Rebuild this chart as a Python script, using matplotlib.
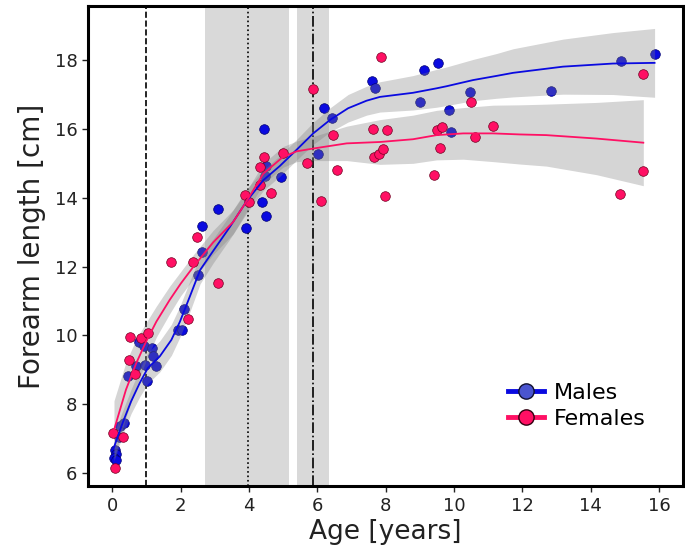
import numpy as np
import matplotlib.pyplot as plt
from matplotlib.lines import Line2D

plt.rcParams['font.family'] = ['DejaVu Sans']

# raw measurements (age in years, forearm length in cm)
male_age = [0.08, 0.12, 0.05, 0.10, 0.20, 0.22, 0.34, 0.47, 0.70, 0.77, 0.92, 0.97,
            1.01, 1.16, 1.19, 1.29, 1.93, 2.03, 2.11, 2.50, 2.63, 2.63, 3.08, 3.91,
            4.37, 4.47, 4.49, 4.51, 4.93, 4.43, 6.02, 6.19, 6.43, 7.60, 7.70, 9.12,
            9.54, 9.01, 10.47, 9.84, 9.90, 12.85, 14.89, 15.88]
male_len = [6.68, 6.55, 6.45, 6.38, 7.04, 7.38, 7.46, 8.81, 9.10, 9.81, 9.70, 9.15,
            8.68, 9.62, 9.40, 9.11, 10.17, 10.15, 10.78, 11.75, 12.43, 13.19, 13.67, 13.11,
            13.88, 14.64, 13.47, 14.93, 14.61, 16.00, 15.28, 16.62, 16.32, 17.40, 17.20, 17.71,
            17.91, 16.77, 17.08, 16.55, 15.91, 17.10, 17.98, 18.19]

female_age = [0.07, 0.03, 0.31, 0.49, 0.51, 0.67, 0.83, 1.05, 1.71, 2.23, 2.36, 2.48,
              3.08, 3.89, 3.99, 4.32, 4.33, 4.43, 4.64, 5.00, 5.69, 5.88, 6.11, 6.47,
              6.58, 7.64, 7.67, 7.80, 7.85, 7.93, 7.99, 8.05, 9.42, 9.49, 9.65, 9.59,
              10.50, 10.62, 11.14, 14.85, 15.54, 15.52]
female_len = [6.14, 7.17, 7.04, 9.28, 9.95, 8.87, 9.92, 10.08, 12.14, 10.47, 12.14, 12.87,
              11.53, 14.08, 13.89, 14.37, 14.90, 15.19, 14.14, 15.31, 15.01, 17.15, 13.91, 15.81,
              14.81, 16.00, 15.19, 15.27, 18.10, 15.41, 14.05, 15.97, 14.65, 15.96, 16.07, 15.46,
              16.79, 15.76, 16.09, 14.10, 17.59, 14.77]

# smoothed fits and confidence half widths
male_fit_x = [0.05, 0.3, 0.55, 0.8, 1.04, 1.39, 1.73, 1.98, 2.27, 2.57, 2.95, 3.44, 3.93,
              4.42, 4.9, 5.39, 5.88, 6.37, 6.9, 7.44, 7.83, 8.8, 9.49, 9.78, 10.56, 11.24,
              11.73, 13.19, 14.65, 15.87]
male_fit_y = [6.75, 7.45, 8.08, 8.61, 9.05, 9.39, 9.87, 10.4, 11.13, 11.9, 12.45, 13.15, 13.9,
              14.51, 14.92, 15.39, 15.87, 16.26, 16.6, 16.82, 16.93, 17.05, 17.18, 17.24, 17.42, 17.54,
              17.63, 17.81, 17.9, 17.92]
male_ci = [0.4, 0.35, 0.35, 0.4, 0.45, 0.45, 0.45, 0.45, 0.45, 0.4, 0.35, 0.35, 0.35,
           0.3, 0.3, 0.3, 0.32, 0.35, 0.4, 0.42, 0.44, 0.5, 0.55, 0.56, 0.6, 0.65,
           0.7, 0.8, 0.9, 1.0]

female_fit_x = [0.05, 0.4, 0.7, 0.99, 1.29, 1.68, 2.0, 2.37, 2.95, 3.54, 3.93, 4.42, 5.0,
                5.4, 5.88, 6.86, 7.83, 8.8, 9.49, 10.27, 11.14, 11.92, 12.7, 14.17, 15.54]
female_fit_y = [7.25, 8.42, 9.19, 9.82, 10.4, 11.03, 11.5, 11.99, 12.7, 13.3, 13.9, 14.7, 15.19,
                15.35, 15.43, 15.58, 15.62, 15.7, 15.82, 15.87, 15.87, 15.84, 15.82, 15.72, 15.6]
female_ci = [0.85, 0.8, 0.7, 0.55, 0.45, 0.4, 0.35, 0.35, 0.35, 0.35, 0.3, 0.3, 0.3,
             0.3, 0.35, 0.5, 0.65, 0.7, 0.72, 0.75, 0.82, 0.86, 0.9, 1.05, 1.25]

# reference ages and their ranges
ref_lines = [1.0, 3.97, 5.87]
ref_styles = ['--', ':', '-.']
ref_spans = [(2.71, 5.17), (5.40, 6.34)]

blue = '#0a0ae0'
pink = '#ff1064'

fig = plt.figure(figsize=(6.85, 5.53), dpi=100)
ax = fig.add_axes([0.1285, 0.121, 0.868, 0.868])

for a, b in ref_spans:
    ax.axvspan(a, b, color='#d9d9d9', lw=0, zorder=0)
for xv, ls in zip(ref_lines, ref_styles):
    ax.axvline(xv, color='black', ls=ls, lw=1.2, zorder=1)

ax.scatter(male_age, male_len, s=48, color=blue, edgecolors='#000070', linewidths=0.5, zorder=2)

mx = np.array(male_fit_x)
my = np.array(male_fit_y)
mc = np.array(male_ci)
fx = np.array(female_fit_x)
fy = np.array(female_fit_y)
fc = np.array(female_ci)
ax.fill_between(mx, my - mc, my + mc, color='#808080', alpha=0.33, lw=0, zorder=3)
ax.fill_between(fx, fy - fc, fy + fc, color='#808080', alpha=0.33, lw=0, zorder=3)

ax.scatter(female_age, female_len, s=48, color=pink, edgecolors='#700020', linewidths=0.5, zorder=4)

ax.plot(mx, my, color=blue, lw=1.3, zorder=5)
ax.plot(fx, fy, color=pink, lw=1.3, zorder=5)

ax.set_xlim(-0.71, 16.69)
ax.set_ylim(5.62, 19.57)
ax.set_xticks(range(0, 17, 2))
ax.set_yticks(range(6, 19, 2))
ax.tick_params(labelsize=13, length=4, width=1, colors='#222222')
for s in ax.spines.values():
    s.set_linewidth(2.2)

ax.set_xlabel('Age [years]', fontsize=19, color='#222222', labelpad=3)
ax.set_ylabel('Forearm length [cm]', fontsize=20, color='#222222', labelpad=6)

handles = [
    Line2D([], [], color=blue, lw=3.5, marker='o', ms=11, mfc='#4a55d0', mec='#101030'),
    Line2D([], [], color=pink, lw=3.5, marker='o', ms=11, mfc=pink, mec='#300010'),
]
ax.legend(handles, ['Males', 'Females'], loc='upper left', bbox_to_anchor=(0.688, 0.238),
          frameon=False, fontsize=16, borderpad=0, handlelength=1.6, handletextpad=0.45,
          labelspacing=0.25)

fig.savefig('out.png', dpi=100)
